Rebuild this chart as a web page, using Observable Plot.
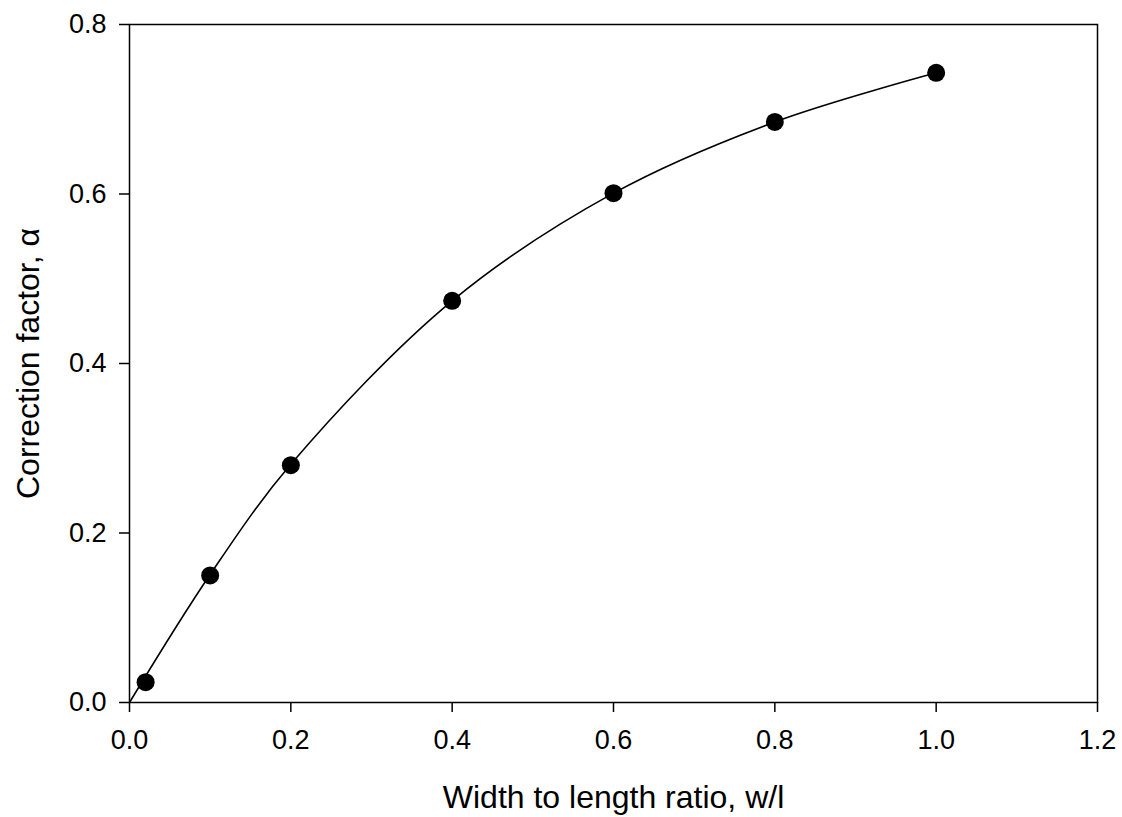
<!DOCTYPE html>
<html><head><meta charset="utf-8">
<script src="https://cdn.jsdelivr.net/npm/d3@7"></script>
<script src="https://cdn.jsdelivr.net/npm/@observablehq/plot@0.6"></script>
<style>
body{margin:0;background:#fff}
#chart svg g[aria-label="x-axis tick label"], #chart svg g[aria-label="y-axis tick label"]{font-size:27px}
</style>
</head><body><div id="chart"></div>
<script>
// Data
const ratio = [0.02, 0.1, 0.2, 0.4, 0.6, 0.8, 1.0];
const alpha = [0.024, 0.150, 0.280, 0.474, 0.601, 0.685, 0.743];
// Fitted curve (starts at the origin)
const curveRatio = [0, 0.1, 0.2, 0.4, 0.6, 0.8, 1.0];
const curveAlpha = [0, 0.151, 0.281, 0.474, 0.601, 0.685, 0.743];
const xTicks = [0, 0.2, 0.4, 0.6, 0.8, 1.0, 1.2];
const yTicks = [0, 0.2, 0.4, 0.6, 0.8];
const xLabel = "Width to length ratio, w/l";
const yLabel = "Correction factor, α";

const points = ratio.map((r, i) => ({r, a: alpha[i]}));
const curve = curveRatio.map((r, i) => ({r, a: curveAlpha[i]}));
const fmt = d3.format(".1f");

const chart = Plot.plot({
  width: 1122, height: 817,
  marginLeft: 129, marginTop: 24, marginRight: 25, marginBottom: 115,
  style: {fontFamily: "'Liberation Sans', Arial, sans-serif", fontSize: "27px", color: "#000", background: "#fff"},
  x: {domain: [0, 1.2]},
  y: {domain: [0, 0.8]},
  marks: [
    Plot.frame({stroke: "#000", strokeWidth: 1.5}),
    Plot.axisX({ticks: xTicks, tickFormat: fmt, tickSize: 10, tickPadding: 17, label: null, strokeWidth: 1.5, fontSize: 27}),
    Plot.axisY({ticks: yTicks, tickFormat: fmt, tickSize: 10, tickPadding: 13, label: null, strokeWidth: 1.5, fontSize: 27}),
    Plot.line(curve, {x: "r", y: "a", curve: "catmull-rom", stroke: "#000", strokeWidth: 1.6}),
    Plot.dot(points, {x: "r", y: "a", r: 9, fill: "#000", stroke: "none"}),
    Plot.text([xLabel], {frameAnchor: "bottom", lineAnchor: "middle", textAnchor: "middle", dy: 95, fontSize: 32, text: d => d}),
    Plot.text([yLabel], {frameAnchor: "left", lineAnchor: "middle", textAnchor: "middle", dx: -101, rotate: -90, fontSize: 32, text: d => d})
  ]
});
document.getElementById("chart").appendChild(chart);
</script>
</body></html>
